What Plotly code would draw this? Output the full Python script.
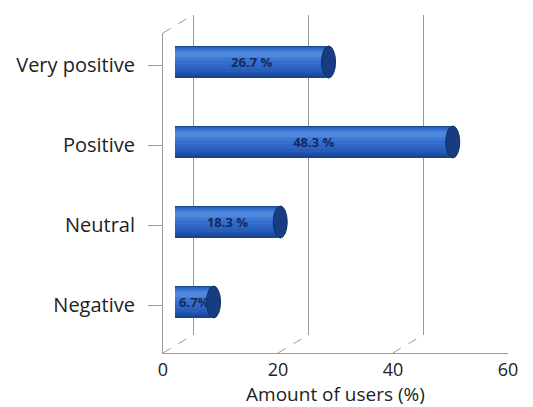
import plotly.graph_objects as go

# ---- data ----
categories = ["Negative", "Neutral", "Positive", "Very positive"]
values = [6.7, 18.3, 48.3, 26.7]
bar_labels = ["6.7%", "18.3 %", "48.3 %", "26.7 %"]
x_ticks = [0, 20, 40, 60]
x_title = "Amount of users (%)"

# ---- geometry (pixels) ----
W, H = 533, 407
L, R, T, B = 163, 0, 15, 54
PW, PH = W - L - R, H - T - B          # paper size in px


def px_x(p):
    return (p - L) / PW


def px_y(p):
    return (H - B - p) / PH


idx = list(range(len(categories)))
GRID = "#9a9a9a"
FONT = "Open Sans"
TXT = "#222222"

fig = go.Figure()

# back-wall grid carrier (invisible) on x2/y2 so it lies below the bars
fig.add_trace(go.Scatter(x=[0], y=[0], mode="markers", marker=dict(opacity=0),
                         xaxis="x2", yaxis="y2", hoverinfo="skip", showlegend=False))

# layered bars to mimic a cylinder shading (on x3/y3, drawn on top)
layers = [
    (0.40, -0.20, "#1A448F"),
    (0.36, -0.17, "#1F50A6"),
    (0.31, -0.13, "#275DB9"),
    (0.26, -0.08, "#2C66C6"),
    (0.20, -0.03, "#336ECF"),
    (0.13, 0.02, "#3D79D6"),
    (0.07, 0.06, "#4F88DD"),
]
for w, off, col in layers:
    fig.add_trace(go.Bar(
        x=values, y=idx, orientation="h", width=w, offset=off,
        marker=dict(color=col, line=dict(width=0), cornerradius=4),
        xaxis="x3", yaxis="y3", hoverinfo="skip", showlegend=False,
    ))

# transparent bar carrying labels
fig.add_trace(go.Bar(
    x=values, y=idx, orientation="h", width=0.40, offset=-0.20,
    marker=dict(color="rgba(0,0,0,0)", line=dict(width=0)),
    text=bar_labels, textposition="inside", insidetextanchor="middle",
    constraintext="none",
    textfont=dict(family=FONT, size=13, color="#172a5c", weight="bold"),
    xaxis="x3", yaxis="y3", showlegend=False,
))

shapes = []
# cylinder caps
for v, i in zip(values, idx):
    shapes.append(dict(
        type="circle", xref="x3", yref="y3",
        xsizemode="pixel", ysizemode="pixel", xanchor=v, yanchor=i,
        x0=-7, x1=7, y0=-16, y1=16,
        fillcolor="#173C82", line=dict(color="#10306C", width=1), layer="above",
    ))
# floor diagonals
for t in x_ticks:
    shapes.append(dict(
        type="line", xref="x", yref="paper",
        xsizemode="pixel", ysizemode="pixel", xanchor=t, yanchor=0,
        x0=0, x1=30, y0=0, y1=18,
        line=dict(color=GRID, width=1, dash="dash"), layer="below",
    ))
# top-left wall diagonal
shapes.append(dict(
    type="line", xref="x", yref="paper",
    xsizemode="pixel", ysizemode="pixel", xanchor=0, yanchor=px_y(33),
    x0=0, x1=30, y0=0, y1=18,
    line=dict(color=GRID, width=1, dash="dash"), layer="below",
))

fig.update_layout(
    width=W, height=H,
    margin=dict(l=L, r=R, t=T, b=B, autoexpand=False),
    paper_bgcolor="white", plot_bgcolor="rgba(0,0,0,0)",
    barmode="overlay",
    showlegend=False,
    font=dict(family=FONT, color=TXT),
    xaxis=dict(
        domain=[0, px_x(508)], range=[0, 60], anchor="y",
        tickvals=x_ticks, ticktext=[str(t) for t in x_ticks],
        showgrid=False, zeroline=False,
        showline=True, linecolor=GRID, linewidth=1,
        ticks="", tickfont=dict(size=18, color=TXT),
        title=dict(text=x_title, font=dict(size=19, color=TXT), standoff=5),
        automargin=False,
    ),
    yaxis=dict(
        domain=[0, px_y(33)], range=[-0.6, 3.4], anchor="x",
        tickvals=idx, ticktext=categories,
        showgrid=False, zeroline=False,
        showline=True, linecolor=GRID, linewidth=1,
        ticks="outside", ticklen=14, tickcolor=GRID, tickwidth=1,
        ticklabelstandoff=9,
        tickfont=dict(size=20, color=TXT),
        automargin=False,
    ),
    # back wall
    xaxis2=dict(
        domain=[px_x(193), 1.0], range=[-0.05, 60 * (W - 193) / 345], anchor="y2",
        showgrid=True, gridcolor=GRID, gridwidth=1,
        zeroline=True, zerolinecolor=GRID, zerolinewidth=1,
        tickvals=x_ticks, showticklabels=False, showline=False, ticks="",
        automargin=False,
    ),
    yaxis2=dict(
        domain=[px_y(335), 1.0], range=[0, 1], anchor="x2",
        visible=False,
    ),
    # bars (mid depth)
    xaxis3=dict(
        domain=[px_x(175), px_x(175 + 345)], range=[0, 60], anchor="y3",
        visible=False,
    ),
    yaxis3=dict(
        domain=[px_y(350), px_y(30)], range=[-0.6, 3.4], anchor="x3",
        visible=False,
    ),
    shapes=shapes,
)

fig.write_html("out.html")
